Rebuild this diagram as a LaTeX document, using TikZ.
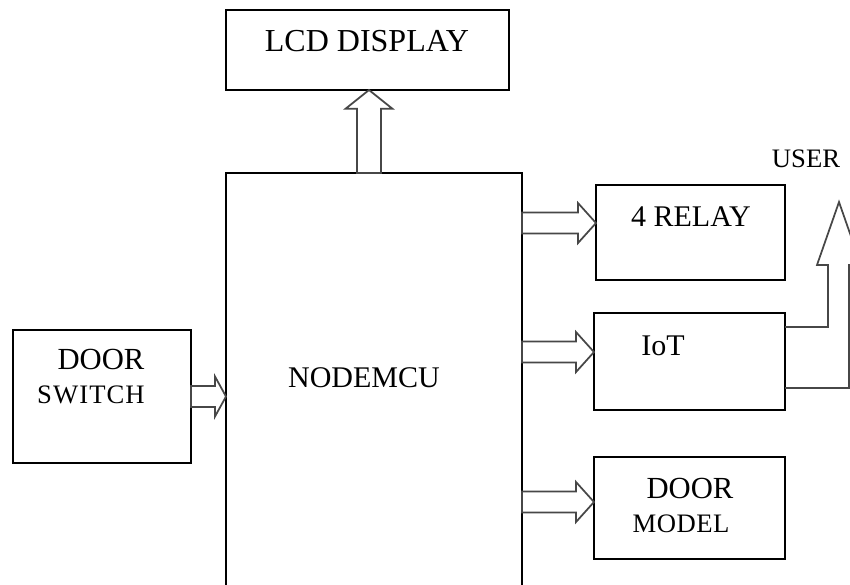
\documentclass[tikz,border=0pt]{standalone}
\usepackage{fontspec}
\setmainfont{Liberation Serif}
\usetikzlibrary{calc}
\tikzset{
  blk/.style={draw=black, line width=1.4pt, inner sep=0pt, outer sep=0pt, fill=white},
  lbl/.style={inner sep=0pt, outer sep=0pt, text=black},
  fatline/.style={draw=black!72, line width=1.3pt, line join=miter},
  fatR/.style={fatline, to path={let \p1=(\tikztostart), \p2=(\tikztotarget) in
    (\x1,\y1+7.9pt) -- (\x2-#1,\y1+7.9pt) -- (\x2-#1,\y1+15pt) -- (\x2,\y1)
    -- (\x2-#1,\y1-15pt) -- (\x2-#1,\y1-7.9pt) -- (\x1,\y1-7.9pt) -- cycle}},
  fatR/.default=13.5pt,
  fatU/.style={fatline, to path={let \p1=(\tikztostart), \p2=(\tikztotarget) in
    (\x1-9pt,\y1) -- (\x1-9pt,\y2-14pt) -- (\x1-17.5pt,\y2-14pt) -- (\x1,\y2)
    -- (\x1+17.5pt,\y2-14pt) -- (\x1+9pt,\y2-14pt) -- (\x1+9pt,\y1) -- cycle}}
}
\newcommand{\fsz}[1]{\fontsize{#1}{#1}\selectfont}
\begin{document}
\begin{tikzpicture}[x=0.75pt, y=-0.75pt]
\useasboundingbox (0,0) rectangle (850,585);
\fill[white] (0,0) rectangle (850,585);

% boxes
\node[blk, minimum width=212.25pt, minimum height=60pt] (lcd) at (367.5,50) {};
\node[blk, minimum width=222pt, minimum height=320.25pt] (mcu) at (374,386.5) {};
\node[blk, minimum width=133.5pt, minimum height=99.75pt] (ds) at (102,396.5) {};
\node[blk, minimum width=141.75pt, minimum height=71.25pt] (relay) at (690.5,232.5) {};
\node[blk, minimum width=143.25pt, minimum height=72.75pt] (iot) at (689.5,361.5) {};
\node[blk, minimum width=143.25pt, minimum height=76.5pt] (model) at (689.5,508) {};

% texts
\node[lbl, font=\fsz{24pt}] (tlcd) at (367,41) {LCD DISPLAY};
\node[lbl, font=\fsz{22.5pt}] (tmcu) at (364,378) {NODEMCU};
\node[lbl, font=\fsz{23pt}] (tds1) at (101,359.5) {DOOR};
\node[lbl, font=\fsz{20pt}\addfontfeature{LetterSpace=4}] (tds2) at (91,394.5) {SWITCH};
\node[lbl, font=\fsz{22.5pt}] (trelay) at (691,217) {4 RELAY};
\node[lbl, font=\fsz{22.5pt}] (tiot) at (663,346) {IoT};
\node[lbl, font=\fsz{23pt}] (tmd1) at (690,488) {DOOR};
\node[lbl, font=\fsz{20pt}\addfontfeature{LetterSpace=2}] (tmd2) at (681,523.5) {MODEL};
\node[lbl, font=\fsz{20pt}] (tuser) at (806,159) {USER};

% block arrows
\draw[fatU] ([xshift=-3.75pt]mcu.north) to (lcd.south);
\draw[fatR=8.25pt] (ds.east) to (mcu.west |- ds.east);
\draw[fatR] ([yshift=7.1pt]mcu.east |- relay.west) to ([yshift=7.1pt]relay.west);
\draw[fatR] ([yshift=7.1pt]mcu.east |- iot.west) to ([yshift=7.1pt]iot.west);
\draw[fatR] ([yshift=4.5pt]mcu.east |- model.west) to ([yshift=4.5pt]model.west);

% user arrow
\draw[fatline] ([yshift=25.9pt]iot.east) -- (828,327) -- (828,265) -- (817,265)
  -- (839,202) -- (861,265) -- (849,265) -- (849,388) -- ([yshift=-19.9pt]iot.east);
\end{tikzpicture}
\end{document}
